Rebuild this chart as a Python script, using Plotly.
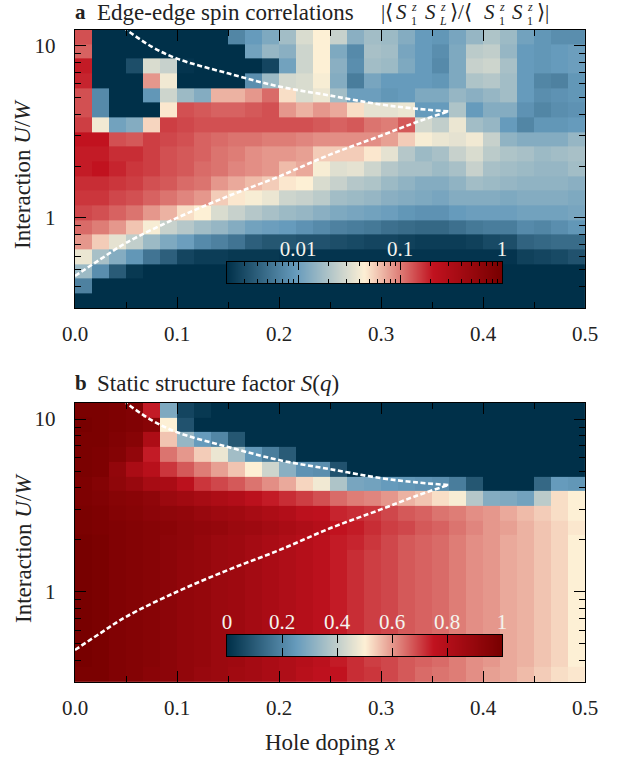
import numpy as np
import plotly.graph_objects as go

W, H = 621, 757

doping = [0.0083,0.025,0.0417,0.0583,0.075,0.0917,0.1083,0.125,0.1417,0.1583,
          0.175,0.1917,0.2083,0.225,0.2417,0.2583,0.275,0.2917,0.3083,0.325,
          0.3417,0.3583,0.375,0.3917,0.4083,0.425,0.4417,0.4583,0.475,0.4917]
interaction = [11.26,9.25,7.61,6.25,5.14,4.225,3.473,2.855,2.347,1.929,
               1.586,1.304,1.072,0.881,0.724,0.595,0.490,0.402,0.331]

# Colour-scale level (0-100) of every cell, top row first
corr_levels = [
 [68,0,0,0,0,0,0,0,0,20,25,29,35,44,50,41,31,35,34,30,25,24,28,33,37,34,27,24,22,22],
 [66,0,0,0,0,0,0,0,0,0,27,33,31,42,50,29,21,36,35,28,25,22,29,39,40,33,25,24,25,26],
 [74,0,0,7,44,41,1,0,0,0,0,5,27,42,50,31,22,35,34,29,25,21,29,41,42,36,25,24,25,26],
 [73,0,0,0,60,48,0,0,0,0,22,34,43,44,49,30,18,28,25,25,25,24,29,37,38,35,25,20,19,24],
 [68,21,0,0,24,42,34,30,57,57,60,65,52,44,47,35,26,26,24,25,29,29,33,31,33,35,25,22,23,24],
 [68,21,0,0,0,51,68,67,66,66,67,68,60,57,60,58,52,46,46,47,25,25,37,25,30,30,23,20,22,23],
 [70,48,27,30,53,70,69,68,68,68,68,68,68,68,67,66,67,64,63,67,43,40,47,35,33,25,20,24,24,25],
 [75,75,68,67,70,69,68,66,65,64,64,63,63,62,61,61,61,61,59,54,49,47,46,48,41,32,30,30,30,33],
 [74,74,72,72,70,68,67,66,64,63,61,60,60,59,54,54,54,51,46,38,34,36,41,44,39,37,36,34,35,36],
 [74,75,73,71,70,68,67,65,64,62,61,60,56,58,49,45,46,42,38,36,36,34,36,41,36,35,34,33,33,35],
 [72,72,71,70,68,67,65,64,60,58,56,54,51,50,44,41,38,37,34,32,30,30,32,35,34,33,32,32,32,31],
 [71,71,69,68,66,64,62,60,54,51,49,47,42,41,39,35,34,33,31,30,29,28,30,30,30,29,30,30,30,29],
 [69,68,66,64,60,57,52,50,44,41,38,36,34,33,31,29,28,27,26,24,23,23,25,26,26,26,27,27,27,28],
 [65,63,60,55,49,41,38,35,33,30,27,26,25,23,21,19,18,17,15,14,13,13,15,17,18,18,21,20,22,24],
 [60,54,46,40,34,29,26,21,19,16,11,9,9,8,8,7,6,5,5,4,3,3,3,4,6,7,12,13,14,14],
 [47,36,30,24,16,11,5,3,3,2,2,2,1,1,1,1,1,1,1,1,1,1,1,1,1,1,4,5,6,8],
 [34,22,10,2,0,0,0,0,0,0,0,0,0,0,0,0,0,0,0,0,0,0,0,0,0,0,0,0,0,0],
 [19,0,0,0,0,0,0,0,0,0,0,0,0,0,0,0,0,0,0,0,0,0,0,0,0,0,0,0,0,0],
 [0,0,0,0,0,0,0,0,0,0,0,0,0,0,0,0,0,0,0,0,0,0,0,0,0,0,0,0,0,0],
]
structure_factor = [
 [99,99,98,97,74,29,5,2,0,0,0,0,0,0,0,0,0,0,0,0,0,0,0,0,0,0,0,0,0,0],
 [100,99,98,97,95,50,8,0,0,0,0,0,0,0,0,0,0,0,0,0,0,0,0,0,0,0,0,0,0,0],
 [99,99,97,95,82,55,33,25,20,9,0,0,0,0,0,0,0,0,0,0,0,0,0,0,0,0,0,0,0,0],
 [99,98,96,91,74,64,60,54,47,35,24,18,10,0,0,0,0,0,0,0,0,0,0,0,0,0,0,0,0,0],
 [99,98,91,83,78,71,67,63,59,55,50,42,31,23,22,8,0,0,0,0,0,0,0,0,0,0,0,0,0,0],
 [98,96,92,89,84,83,77,71,69,67,64,61,58,53,48,37,28,27,25,24,23,22,18,9,0,0,0,13,25,24],
 [98,97,95,94,92,88,86,84,82,80,77,74,72,70,68,65,63,62,60,57,55,52,49,38,30,29,27,39,52,50],
 [99,98,96,95,93,92,91,89,87,86,84,82,80,77,76,73,72,71,69,67,66,64,63,61,60,58,56,54,52,50],
 [99,98,97,96,95,94,92,91,90,88,87,85,83,81,79,75,74,72,70,69,67,66,64,62,60,59,57,55,53,51],
 [100,99,97,96,95,93,92,90,88,87,85,83,81,79,77,74,73,71,69,67,66,65,63,61,60,58,57,55,53,50],
 [100,99,97,96,95,93,91,90,88,87,85,83,81,79,77,74,72,70,69,67,66,65,63,61,60,58,57,55,53,50],
 [100,99,97,96,95,93,91,90,88,87,85,83,81,79,77,74,72,70,69,67,66,65,63,61,60,58,57,55,53,50],
 [100,99,97,96,95,93,91,90,88,87,85,83,81,79,77,74,72,70,69,67,66,65,63,61,60,58,57,55,53,50],
 [100,99,97,96,95,93,91,90,88,87,85,83,81,79,77,74,72,70,69,67,66,65,63,61,60,58,57,55,53,50],
 [100,99,97,96,95,93,91,90,88,87,85,83,81,79,77,74,72,70,69,67,66,65,63,61,60,58,57,55,53,50],
 [100,99,97,96,95,93,91,90,88,87,85,83,81,79,77,74,72,70,69,67,66,65,63,61,60,58,57,55,53,50],
 [100,99,97,96,95,93,91,90,88,87,85,83,81,79,77,74,72,70,69,67,66,65,63,61,60,58,57,55,53,50],
 [100,99,97,96,95,93,91,90,88,87,85,83,81,79,77,74,72,70,69,67,66,65,63,61,60,58,57,55,53,50],
 [99,99,97,96,94,93,91,89,88,86,85,83,81,78,76,75,72,71,69,67,65,64,63,61,59,58,56,54,52,51],
]

lower_x = [0.0,0.025,0.05,0.1,0.15,0.2,0.25,0.3,0.335,0.366]
lower_u = [0.46,0.576,0.716,1.0,1.336,1.74,2.33,3.0,3.6,4.15]
upper_x = [0.366,0.335,0.3,0.25,0.2,0.15,0.1,0.075,0.05]
upper_u = [4.15,4.3,4.55,5.13,5.79,6.9,8.4,9.87,12.4]

x_ticks = [0.0,0.1,0.2,0.3,0.4,0.5]
x_minor = [0.05,0.15,0.25,0.35,0.45]
u_ticks = [1,10]
u_minor = [0.3,0.4,0.5,0.6,0.7,0.8,0.9,2,3,4,5,6,7,8,9]
cbar_a_ticks = [0.01,0.1,1]
cbar_a_text = ["0.01","0.1","1"]
cbar_a_minor = [0.002,0.003,0.004,0.005,0.006,0.007,0.008,0.009,
                0.02,0.03,0.04,0.05,0.06,0.07,0.08,0.09,
                0.2,0.3,0.4,0.5,0.6,0.7,0.8,0.9]
cbar_b_ticks = [0,0.2,0.4,0.6,0.8,1]
cbar_b_text = ["0","0.2","0.4","0.6","0.8","1"]

palette = [[0,"#003049"],[0.25,"#669bbc"],[0.5,"#fdf0d5"],[0.75,"#c1121f"],[1,"#780000"]]
SERIF = "Liberation Serif"
INK = "#222222"

fx = lambda p: p / W
fy = lambda p: 1 - p / H

fig = go.Figure()
def heat(z, ax):
    fig.add_trace(go.Heatmap(x=doping, y=interaction[::-1], z=z[::-1], zmin=0, zmax=100,
                             colorscale=palette, showscale=False, xaxis="x"+ax, yaxis="y"+ax))
    for bx, bu in ((lower_x, lower_u), (upper_x, upper_u)):
        fig.add_trace(go.Scatter(x=bx, y=bu, mode="lines", xaxis="x"+ax, yaxis="y"+ax,
                                 line=dict(color="white", width=2.6, dash="5px,2.6px", shape="spline", smoothing=1.0),
                                 showlegend=False))
heat(corr_levels, "")
heat(structure_factor, "2")

grad = np.linspace(0, 100, 276)
fig.add_trace(go.Heatmap(x=10**np.linspace(np.log10(0.002), 0, 276), y=[0,1], z=[grad,grad], zmin=0, zmax=100,
                         colorscale=palette, showscale=False, xaxis="x3", yaxis="y3"))
fig.add_trace(go.Heatmap(x=grad/100, y=[0,1], z=[grad,grad], zmin=0, zmax=100,
                         colorscale=palette, showscale=False, xaxis="x4", yaxis="y4"))

def main_axes(top, bottom, anchor):
    common = dict(ticks="inside", ticklen=11, tickwidth=1.1, tickcolor="black", showline=True, linecolor="black",
                  linewidth=1.4, mirror="ticks", showgrid=False, zeroline=False, tickmode="array",
                  tickfont=dict(family=SERIF, size=21, color=INK), layer="above traces")
    minor = dict(tickmode="array", ticks="inside", ticklen=6, tickwidth=1.1, tickcolor="black", showgrid=False)
    xa = dict(domain=[fx(75), fx(585)], range=[0,0.5], anchor="y"+anchor, tickvals=x_ticks, ticklabelstandoff=7,
              ticktext=["0.0","0.1","0.2","0.3","0.4","0.5"], minor=dict(tickvals=x_minor, **minor), **common)
    ya = dict(domain=[fy(bottom), fy(top)], type="log", range=[np.log10(0.3), np.log10(12.4)], anchor="x"+anchor,
              ticklabelstandoff=14, tickvals=u_ticks, ticktext=["1","10"], minor=dict(tickvals=u_minor, **minor), **common)
    return xa, ya

def cbar_axes(top, bottom, anchor, **kw):
    xa = dict(domain=[fx(227), fx(502)], anchor="y"+anchor, side="top", tickmode="array", ticks="inside", ticklen=8, tickwidth=1.1,
              tickcolor="black", showline=True, linecolor="black", linewidth=1.4, mirror="ticks", showgrid=False, zeroline=False,
              tickfont=dict(family=SERIF, size=21, color="#f4f4ee"), layer="above traces", ticklabelstandoff=-4, **kw)
    ya = dict(domain=[fy(bottom), fy(top)], range=[0,1], anchor="x"+anchor, showticklabels=False, ticks="",
              showline=True, linecolor="black", linewidth=1.4, mirror=True, showgrid=False, zeroline=False)
    return xa, ya

xa, ya = main_axes(29.5, 308, "")
xa2, ya2 = main_axes(403, 682, "2")
xa3, ya3 = cbar_axes(262, 283, "3", type="log", range=[np.log10(0.002),0], tickvals=cbar_a_ticks, ticktext=cbar_a_text,
                     minor=dict(tickmode="array", tickvals=cbar_a_minor, ticks="inside", ticklen=4, tickwidth=1, tickcolor="black"))
xa4, ya4 = cbar_axes(635, 656, "4", range=[0,1], tickvals=cbar_b_ticks, ticktext=cbar_b_text)

def note(text, x, y, size=21, angle=0, xanchor="left", color=INK):
    return dict(text=text, x=fx(x), y=fy(y), xref="paper", yref="paper", xanchor=xanchor, yanchor="middle",
                showarrow=False, textangle=angle, font=dict(family=SERIF, size=size, color=color),
                borderpad=0, borderwidth=0)

S = "<i>S</i>"
TY, UP, DN = 12.5, 7.5, 21
ann = [
    note("<b>a</b>", 75, TY),
    note("Edge-edge spin correlations", 97, TY, 23),
    note("|⟨", 381, TY),
    note(S, 396, TY),
    note("<i>z</i>", 411, UP, 12),
    note("1", 411, DN, 12),
    note(S, 425, TY),
    note("<i>z</i>", 440, UP, 12),
    note("<i>L</i>", 439, DN, 12),
    note("⟩/⟨", 450, TY),
    note(S, 484, TY),
    note("<i>z</i>", 499, UP, 12),
    note("1", 499, DN, 12),
    note(S, 512, TY),
    note("<i>z</i>", 527, UP, 12),
    note("1", 527, DN, 12),
    note("⟩|", 537, TY),
    note("<b>b</b>", 75, 383),
    note("Static structure factor <i>S</i>(<i>q</i>)", 97, 383, 23),
    note("Interaction <i>U</i>/<i>W</i>", 23, 175, 23, angle=-90, xanchor="center"),
    note("Interaction <i>U</i>/<i>W</i>", 23, 549, 23, angle=-90, xanchor="center"),
    note("Hole doping <i>x</i>", 330, 742, 23, xanchor="center"),
]

fig.update_layout(width=W, height=H, margin=dict(l=0,r=0,t=0,b=0,autoexpand=False), paper_bgcolor="white", plot_bgcolor="white",
                  showlegend=False, xaxis=xa, yaxis=ya, xaxis2=xa2, yaxis2=ya2, xaxis3=xa3, yaxis3=ya3,
                  xaxis4=xa4, yaxis4=ya4, annotations=ann)
fig.write_html("out.html", config={"displayModeBar": False},
               post_script="document.body.style.margin='0';document.documentElement.style.overflow='hidden';")
